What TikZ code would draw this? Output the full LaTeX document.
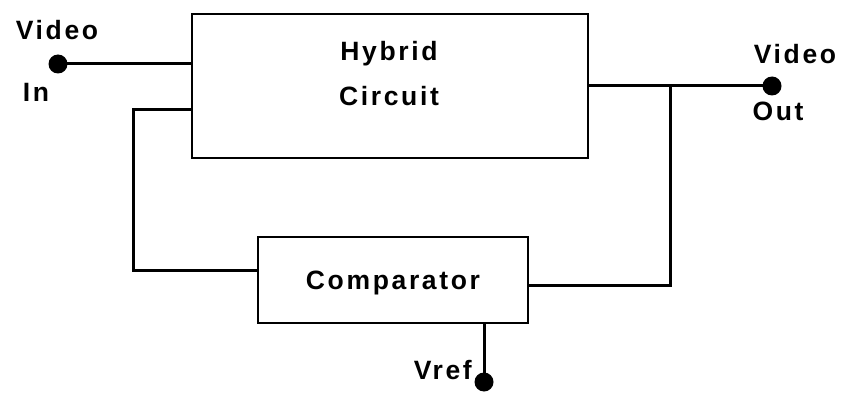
\documentclass[tikz,border=0pt]{standalone}
\usepackage{fontspec}
\setmainfont{Liberation Sans}[LetterSpace=10]
\begin{document}
\begin{tikzpicture}[x=1pt,y=-1pt,
  box/.style={draw, line width=2pt, inner sep=0pt},
  wire/.style={line width=3pt},
  term/.style={circle, fill, inner sep=0pt, minimum size=19pt},
  lbl/.style={font=\fontsize{26.5}{30}\selectfont\bfseries, inner sep=0pt, anchor=base}]
\useasboundingbox (0,0) rectangle (853,398);
% blocks
\node[box, minimum width=396pt, minimum height=144pt] (hyb) at (390,86) {};
\node[lbl] (hybt1) at (389,61) {Hybrid};
\node[lbl] (hybt2) at (389,106) {Circuit};
\node[box, minimum width=270pt, minimum height=86pt] (cmp) at (393,279.5) {};
\node[lbl] (cmpt) at (393,289) {Comparator};
% terminals
\node[term] (vin) at (58,64) {};
\node[term] (vout) at (772,86) {};
\node[term] (vref) at (484,382) {};
% labels
\node[lbl] (lvin) at (57,40) {Video};
\node[lbl] (lin) at (36,102) {In};
\node[lbl] (lvout) at (795,64) {Video};
\node[lbl] (lout) at (778,121) {Out};
\node[lbl, anchor=base east] (lvref) at (472,379) {Vref};
% connection points
\coordinate (hin) at (hyb.west |- vin);
\coordinate (hfb) at (192,110);
\coordinate (hout) at (hyb.east |- vout);
\coordinate (cin) at (258,270);
\coordinate (cout) at (528,285);
\coordinate (jn) at (670,86);
\coordinate (cref) at (cmp.south -| vref);
% wires
\draw[wire] (vin.center) -- (hin);
\draw[wire] (hfb) -- ++(-59,0) |- (cin);
\draw[wire] (hout) -- (vout.center);
\draw[wire] (cout) -| (jn);
\draw[wire] (cref) -- (vref.center);
\end{tikzpicture}
\end{document}
